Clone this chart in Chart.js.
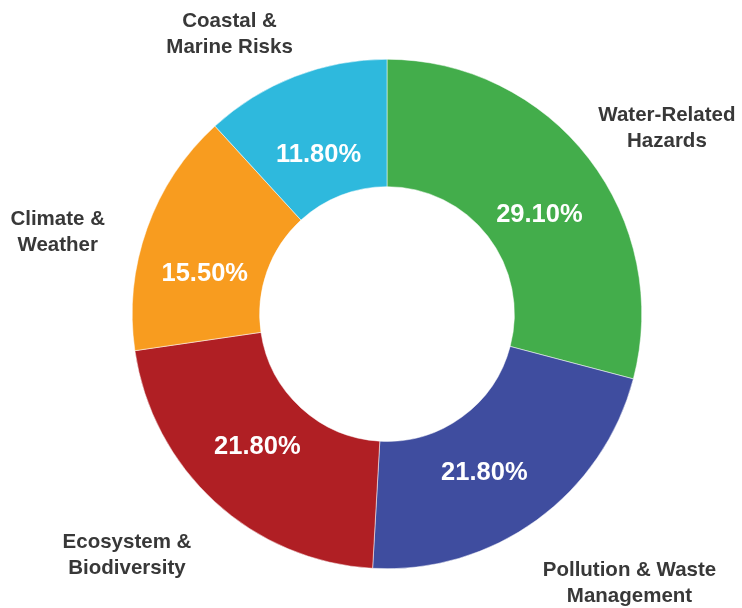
<!DOCTYPE html>
<html>
<head>
<meta charset="utf-8">
<script src="https://cdn.jsdelivr.net/npm/chart.js@4.4.1/dist/chart.umd.min.js"></script>
<style>
  html, body { margin: 0; padding: 0; background: #fff; }
  #wrap { width: 742px; height: 608px; }
</style>
</head>
<body>
<div id="wrap"><canvas id="grafico" width="742" height="608"></canvas></div>
<script>
// categorie e quote (%)
var categorie = [
    ["Water-Related", "Hazards"],
    ["Pollution & Waste", "Management"],
    ["Ecosystem &", "Biodiversity"],
    ["Climate &", "Weather"],
    ["Coastal &", "Marine Risks"]
];
var quote = [29.1, 21.8, 21.8, 15.5, 11.8];
var colori = ["#43ad4b", "#3f4d9f", "#b01f24", "#f89c1f", "#2eb9dd"];

// spostamenti delle etichette esterne e delle percentuali rispetto alla posizione calcolata
var spostamenti = [[8, -2], [30, 26], [-31, 20], [-26, 19], [-35, 1]];
var spostamentiPct = [[5, 15], [-12, 8], [-4, -4], [-7, 22], [-1, 14]];

var etichette = {
    id: "etichette",
    afterDatasetsDraw: function (chart) {
        var ctx = chart.ctx;
        var archi = chart.getDatasetMeta(0).data;
        ctx.save();
        for (var i = 0; i < archi.length; i++) {
            var a = archi[i].getProps(["x", "y", "startAngle", "endAngle", "innerRadius", "outerRadius"], true);
            var mid = (a.startAngle + a.endAngle) / 2;
            var ux = Math.cos(mid), uy = Math.sin(mid);

            // percentuale dentro la fetta
            var rm = (a.innerRadius + a.outerRadius) / 2 - 5;
            ctx.fillStyle = "#ffffff";
            ctx.font = "bold 25.5px 'Liberation Sans'";
            ctx.textAlign = "center";
            ctx.textBaseline = "middle";
            ctx.fillText(quote[i].toFixed(2) + "%", a.x + rm * ux + spostamentiPct[i][0], a.y + rm * uy + spostamentiPct[i][1]);

            // nome della categoria fuori dall'anello
            ctx.font = "bold 20.5px 'Liberation Sans'";
            ctx.fillStyle = "#383838";
            var righe = categorie[i];
            var w = 0;
            for (var j = 0; j < righe.length; j++) w = Math.max(w, ctx.measureText(righe[j]).width);
            var lh = 26;
            var h = lh * righe.length;
            var r = a.outerRadius + 20;
            var cx = a.x + r * ux + w / 2 * ux + spostamenti[i][0];
            var cy = a.y + r * uy + h / 2 * uy + spostamenti[i][1];
            for (var j = 0; j < righe.length; j++) {
                ctx.fillText(righe[j], cx, cy - h / 2 + lh / 2 + j * lh);
            }
        }
        ctx.restore();
    }
};

var chart = new Chart(document.getElementById("grafico"), {
    type: "doughnut",
    data: {
        labels: categorie.map(function (c) { return c.join(" "); }),
        datasets: [{
            data: quote,
            backgroundColor: colori,
            borderColor: "#ffffff",
            borderWidth: 0.5
        }]
    },
    options: {
        responsive: false,
        animation: false,
        cutout: "50%",
        layout: { padding: { top: 59, bottom: 39, left: 32, right: 0 } },
        plugins: {
            legend: { display: false },
            tooltip: { enabled: false }
        }
    },
    plugins: [etichette]
});
</script>
</body>
</html>
